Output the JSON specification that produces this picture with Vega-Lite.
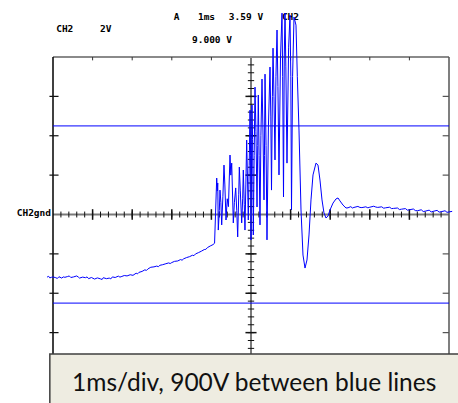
{
  "$schema": "https://vega.github.io/schema/vega-lite/v6.json",
  "width": 396,
  "height": 315,
  "autosize": {"type": "none"},
  "padding": {"left": 53, "top": 57, "right": 9, "bottom": 31},
  "background": "white",
  "config": {"view": {"stroke": null}, "axis": {"disable": true}},
  "datasets": {
    "one": [{}],
    "trace": [
      {"t": -5.15, "v": -318}, {"t": -5.11, "v": -314}, {"t": -5.08, "v": -322}, {"t": -5.04, "v": -319}, {"t": -5.0, "v": -317}, {"t": -4.93, "v": -321},
      {"t": -4.89, "v": -325}, {"t": -4.85, "v": -316}, {"t": -4.78, "v": -323}, {"t": -4.74, "v": -317}, {"t": -4.7, "v": -319}, {"t": -4.63, "v": -315},
      {"t": -4.59, "v": -312}, {"t": -4.55, "v": -320}, {"t": -4.48, "v": -317}, {"t": -4.4, "v": -312}, {"t": -4.36, "v": -318}, {"t": -4.33, "v": -323},
      {"t": -4.25, "v": -318}, {"t": -4.18, "v": -321}, {"t": -4.14, "v": -317}, {"t": -4.1, "v": -326}, {"t": -4.03, "v": -320},
      {"t": -3.99, "v": -324}, {"t": -3.95, "v": -328}, {"t": -3.88, "v": -322}, {"t": -3.8, "v": -327}, {"t": -3.76, "v": -330}, {"t": -3.73, "v": -321},
      {"t": -3.65, "v": -326}, {"t": -3.58, "v": -323}, {"t": -3.54, "v": -327}, {"t": -3.5, "v": -317}, {"t": -3.43, "v": -320},
      {"t": -3.35, "v": -313}, {"t": -3.31, "v": -318}, {"t": -3.28, "v": -316}, {"t": -3.2, "v": -310}, {"t": -3.13, "v": -312},
      {"t": -3.05, "v": -306}, {"t": -2.98, "v": -309}, {"t": -2.9, "v": -298}, {"t": -2.87, "v": -302}, {"t": -2.83, "v": -294},
      {"t": -2.75, "v": -289}, {"t": -2.68, "v": -281}, {"t": -2.64, "v": -284}, {"t": -2.6, "v": -276}, {"t": -2.53, "v": -268},
      {"t": -2.45, "v": -266}, {"t": -2.38, "v": -262}, {"t": -2.34, "v": -265}, {"t": -2.3, "v": -258}, {"t": -2.23, "v": -255},
      {"t": -2.15, "v": -250}, {"t": -2.08, "v": -246}, {"t": -2.04, "v": -249}, {"t": -2.0, "v": -244}, {"t": -1.93, "v": -238},
      {"t": -1.85, "v": -236}, {"t": -1.78, "v": -229}, {"t": -1.74, "v": -232}, {"t": -1.7, "v": -225}, {"t": -1.63, "v": -219},
      {"t": -1.55, "v": -214}, {"t": -1.48, "v": -207}, {"t": -1.44, "v": -209}, {"t": -1.4, "v": -200}, {"t": -1.33, "v": -194},
      {"t": -1.25, "v": -186}, {"t": -1.18, "v": -178}, {"t": -1.14, "v": -177}, {"t": -1.1, "v": -168}, {"t": -1.03, "v": -160},
      {"t": -0.96, "v": -153}, {"t": -0.92, "v": -146},
      {"t": -0.866, "v": 185}, {"t": -0.85, "v": 120}, {"t": -0.84, "v": 160}, {"t": -0.826, "v": -79}, {"t": -0.8, "v": 20},
      {"t": -0.783, "v": 124}, {"t": -0.76, "v": 60}, {"t": -0.74, "v": -53}, {"t": -0.71, "v": 90}, {"t": -0.682, "v": 251},
      {"t": -0.66, "v": 150}, {"t": -0.631, "v": -28}, {"t": -0.6, "v": 80}, {"t": -0.57, "v": 40}, {"t": -0.53, "v": 302},
      {"t": -0.51, "v": 200}, {"t": -0.487, "v": 261}, {"t": -0.447, "v": -43}, {"t": -0.42, "v": 60}, {"t": -0.386, "v": 135},
      {"t": -0.36, "v": 20}, {"t": -0.336, "v": -114}, {"t": -0.31, "v": 100}, {"t": -0.295, "v": 241}, {"t": -0.27, "v": 120},
      {"t": -0.235, "v": -43}, {"t": -0.21, "v": 80}, {"t": -0.194, "v": 226}, {"t": -0.17, "v": 50}, {"t": -0.152, "v": -79},
      {"t": -0.13, "v": 150}, {"t": -0.109, "v": 378}, {"t": -0.09, "v": 200}, {"t": -0.068, "v": -28}, {"t": -0.045, "v": 250},
      {"t": -0.025, "v": 530}, {"t": -0.01, "v": 300}, {"t": 0.0, "v": -129}, {"t": 0.012, "v": 200}, {"t": 0.025, "v": 556},
      {"t": 0.04, "v": 380}, {"t": 0.058, "v": -104}, {"t": 0.08, "v": 300}, {"t": 0.101, "v": 647}, {"t": 0.125, "v": 420},
      {"t": 0.152, "v": 38}, {"t": 0.17, "v": 350}, {"t": 0.184, "v": 607}, {"t": 0.205, "v": 300}, {"t": 0.227, "v": -53},
      {"t": 0.25, "v": 400}, {"t": 0.278, "v": 688}, {"t": 0.3, "v": 450}, {"t": 0.328, "v": 74}, {"t": 0.34, "v": 300},
      {"t": 0.354, "v": 713}, {"t": 0.38, "v": 350}, {"t": 0.404, "v": -129}, {"t": 0.44, "v": 450}, {"t": 0.48, "v": 749},
      {"t": 0.5, "v": 500}, {"t": 0.518, "v": 124}, {"t": 0.54, "v": 600}, {"t": 0.556, "v": 845}, {"t": 0.58, "v": 600},
      {"t": 0.606, "v": 277}, {"t": 0.63, "v": 700}, {"t": 0.657, "v": 937}, {"t": 0.68, "v": 650}, {"t": 0.707, "v": 201},
      {"t": 0.745, "v": 800}, {"t": 0.783, "v": 1023}, {"t": 0.8, "v": 700}, {"t": 0.821, "v": 89}, {"t": 0.84, "v": 800},
      {"t": 0.859, "v": 1023}, {"t": 0.88, "v": 750}, {"t": 0.909, "v": 261}, {"t": 0.95, "v": 850}, {"t": 0.985, "v": 1013},
      {"t": 1.005, "v": 700}, {"t": 1.023, "v": 23}, {"t": 1.05, "v": 700}, {"t": 1.086, "v": 1003}, {"t": 1.136, "v": 962},
      {"t": 1.17, "v": 700}, {"t": 1.212, "v": 429},
      {"t": 1.263, "v": 23}, {"t": 1.313, "v": -206}, {"t": 1.364, "v": -272}, {"t": 1.414, "v": -231},
      {"t": 1.465, "v": -104}, {"t": 1.515, "v": 74}, {"t": 1.566, "v": 201}, {"t": 1.641, "v": 261},
      {"t": 1.692, "v": 251}, {"t": 1.742, "v": 175}, {"t": 1.793, "v": 74}, {"t": 1.843, "v": 8},
      {"t": 1.894, "v": -18}, {"t": 1.944, "v": -8}, {"t": 1.995, "v": 23}, {"t": 2.071, "v": 58},
      {"t": 2.146, "v": 79}, {"t": 2.197, "v": 84}, {"t": 2.247, "v": 69}, {"t": 2.323, "v": 48},
      {"t": 2.399, "v": 33}, {"t": 2.45, "v": 34}, {"t": 2.52, "v": 40}, {"t": 2.56, "v": 33}, {"t": 2.6, "v": 36},
      {"t": 2.7, "v": 41}, {"t": 2.75, "v": 36}, {"t": 2.8, "v": 35}, {"t": 2.9, "v": 39}, {"t": 2.95, "v": 34}, {"t": 3.0, "v": 37},
      {"t": 3.1, "v": 42}, {"t": 3.15, "v": 38}, {"t": 3.2, "v": 36}, {"t": 3.3, "v": 39}, {"t": 3.35, "v": 32}, {"t": 3.4, "v": 34},
      {"t": 3.5, "v": 37}, {"t": 3.55, "v": 30}, {"t": 3.6, "v": 31}, {"t": 3.7, "v": 33}, {"t": 3.75, "v": 25}, {"t": 3.8, "v": 27},
      {"t": 3.9, "v": 30}, {"t": 3.95, "v": 22}, {"t": 4.0, "v": 24}, {"t": 4.1, "v": 28}, {"t": 4.15, "v": 20}, {"t": 4.2, "v": 19},
      {"t": 4.3, "v": 24}, {"t": 4.35, "v": 15}, {"t": 4.4, "v": 17}, {"t": 4.5, "v": 22}, {"t": 4.55, "v": 13}, {"t": 4.6, "v": 16},
      {"t": 4.7, "v": 21}, {"t": 4.75, "v": 12}, {"t": 4.8, "v": 14}, {"t": 4.9, "v": 19}, {"t": 4.95, "v": 11}, {"t": 5.0, "v": 13}, {"t": 5.08, "v": 16}
    ],
    "tminor": [
      {"t": -4.8}, {"t": -4.6}, {"t": -4.4}, {"t": -4.2}, {"t": -4.0}, {"t": -3.8}, {"t": -3.6}, {"t": -3.4},
      {"t": -3.2}, {"t": -3.0}, {"t": -2.8}, {"t": -2.6}, {"t": -2.4}, {"t": -2.2}, {"t": -2.0}, {"t": -1.8},
      {"t": -1.6}, {"t": -1.4}, {"t": -1.2}, {"t": -1.0}, {"t": -0.8}, {"t": -0.6}, {"t": -0.4}, {"t": -0.2},
      {"t": 0.2}, {"t": 0.4}, {"t": 0.6}, {"t": 0.8}, {"t": 1.0}, {"t": 1.2}, {"t": 1.4}, {"t": 1.6},
      {"t": 1.8}, {"t": 2.0}, {"t": 2.2}, {"t": 2.4}, {"t": 2.6}, {"t": 2.8}, {"t": 3.0}, {"t": 3.2},
      {"t": 3.4}, {"t": 3.6}, {"t": 3.8}, {"t": 4.0}, {"t": 4.2}, {"t": 4.4}, {"t": 4.6}, {"t": 4.8}
    ],
    "tdiv": [
      {"t": -4}, {"t": -3}, {"t": -2}, {"t": -1}, {"t": 1}, {"t": 2}, {"t": 3}, {"t": 4}
    ],
    "vminor": [
      {"v": -760}, {"v": -720}, {"v": -680}, {"v": -640}, {"v": -600}, {"v": -560}, {"v": -520}, {"v": -480},
      {"v": -440}, {"v": -400}, {"v": -360}, {"v": -320}, {"v": -280}, {"v": -240}, {"v": -200}, {"v": -160},
      {"v": -120}, {"v": -80}, {"v": -40}, {"v": 40}, {"v": 80}, {"v": 120}, {"v": 160}, {"v": 200},
      {"v": 240}, {"v": 280}, {"v": 320}, {"v": 360}, {"v": 400}, {"v": 440}, {"v": 480}, {"v": 520},
      {"v": 560}, {"v": 600}, {"v": 640}, {"v": 680}, {"v": 720}, {"v": 760}
    ],
    "vdiv": [
      {"v": -600}, {"v": -400}, {"v": -200}, {"v": 200}, {"v": 400}, {"v": 600}
    ],
    "blue": [{"v": 450}, {"v": -450}],
    "labels": [
      {"t": -4.92, "v": 942, "text": "CH2"},
      {"t": -3.81, "v": 942, "text": "2V"},
      {"t": -1.95, "v": 1005, "text": "A"},
      {"t": -1.34, "v": 1005, "text": "1ms"},
      {"t": -0.56, "v": 1005, "text": "3.59 V"},
      {"t": 0.78, "v": 1005, "text": "CH2"},
      {"t": -1.49, "v": 886, "text": "9.000 V"}
    ]
  },
  "layer": [
    {
      "data": {"name": "one"},
      "mark": {"type": "rule", "color": "#7a7a7a", "strokeWidth": 2},
      "encoding": {
        "x": {"datum": -5, "type": "quantitative", "scale": {"domain": [-5, 5], "nice": false, "zero": false}},
        "x2": {"datum": 5},
        "y": {"datum": 0, "type": "quantitative", "scale": {"domain": [-800, 800], "nice": false, "zero": false}}
      }
    },
    {
      "data": {"name": "one"},
      "mark": {"type": "rule", "color": "#7a7a7a", "strokeWidth": 2},
      "encoding": {
        "x": {"datum": 0, "type": "quantitative"},
        "y": {"datum": -800, "type": "quantitative"},
        "y2": {"datum": 800}
      }
    },
    {
      "data": {"name": "one"},
      "mark": {"type": "rule", "color": "#8a8a8a", "strokeWidth": 2},
      "encoding": {
        "x": {"datum": -5, "type": "quantitative"},
        "x2": {"datum": 5},
        "y": {"datum": 800, "type": "quantitative"}
      }
    },
    {
      "data": {"name": "one"},
      "mark": {"type": "rule", "color": "#000000", "strokeWidth": 1.5},
      "encoding": {
        "x": {"datum": -5, "type": "quantitative"},
        "y": {"datum": -800, "type": "quantitative"},
        "y2": {"datum": 800}
      }
    },
    {
      "data": {"name": "one"},
      "mark": {"type": "rule", "color": "#555555", "strokeWidth": 1.5},
      "encoding": {
        "x": {"datum": 5, "type": "quantitative"},
        "y": {"datum": -800, "type": "quantitative"},
        "y2": {"datum": 800}
      }
    },
    {
      "data": {"name": "tminor"},
      "mark": {"type": "rule", "color": "#111111", "strokeWidth": 1},
      "encoding": {
        "x": {"field": "t", "type": "quantitative"},
        "y": {"datum": -15, "type": "quantitative"},
        "y2": {"datum": 15}
      }
    },
    {
      "data": {"name": "tdiv"},
      "mark": {"type": "rule", "color": "#111111", "strokeWidth": 1.5},
      "encoding": {
        "x": {"field": "t", "type": "quantitative"},
        "y": {"datum": -27, "type": "quantitative"},
        "y2": {"datum": 27}
      }
    },
    {
      "data": {"name": "vminor"},
      "mark": {"type": "rule", "color": "#111111", "strokeWidth": 1},
      "encoding": {
        "y": {"field": "v", "type": "quantitative"},
        "x": {"datum": -0.08, "type": "quantitative"},
        "x2": {"datum": 0.08}
      }
    },
    {
      "data": {"name": "vdiv"},
      "mark": {"type": "rule", "color": "#111111", "strokeWidth": 1.5},
      "encoding": {
        "y": {"field": "v", "type": "quantitative"},
        "x": {"datum": -0.14, "type": "quantitative"},
        "x2": {"datum": 0.14}
      }
    },
    {
      "data": {"name": "vdiv"},
      "mark": {"type": "rule", "color": "#111111", "strokeWidth": 1.2, "clip": false},
      "encoding": {
        "y": {"field": "v", "type": "quantitative"},
        "x": {"datum": -5.09, "type": "quantitative"},
        "x2": {"datum": -4.86}
      }
    },
    {
      "data": {"name": "vdiv"},
      "mark": {"type": "rule", "color": "#555555", "strokeWidth": 1.2},
      "encoding": {
        "y": {"field": "v", "type": "quantitative"},
        "x": {"datum": 4.84, "type": "quantitative"},
        "x2": {"datum": 5}
      }
    },
    {
      "data": {"name": "tdiv"},
      "mark": {"type": "rule", "color": "#333333", "strokeWidth": 1},
      "encoding": {
        "x": {"field": "t", "type": "quantitative"},
        "y": {"datum": 800, "type": "quantitative"},
        "y2": {"datum": 783}
      }
    },
    {
      "data": {"name": "blue"},
      "mark": {"type": "rule", "color": "#0000ff", "strokeWidth": 1},
      "encoding": {
        "y": {"field": "v", "type": "quantitative"},
        "x": {"datum": -5, "type": "quantitative"},
        "x2": {"datum": 5}
      }
    },
    {
      "data": {"name": "labels"},
      "mark": {"type": "text", "font": "DejaVu Sans Mono", "fontWeight": "bold", "fontSize": 9.5, "align": "left", "baseline": "middle", "color": "#000000", "clip": false},
      "encoding": {
        "x": {"field": "t", "type": "quantitative"},
        "y": {"field": "v", "type": "quantitative"},
        "text": {"field": "text"}
      }
    },
    {
      "data": {"name": "one"},
      "mark": {"type": "text", "font": "DejaVu Sans Mono", "fontWeight": "bold", "fontSize": 9.5, "align": "right", "baseline": "middle", "color": "#000000", "clip": false},
      "encoding": {
        "x": {"datum": -5.05, "type": "quantitative"},
        "y": {"datum": 8, "type": "quantitative"},
        "text": {"value": "CH2gnd"}
      }
    },
    {
      "data": {"name": "trace"},
      "mark": {"type": "line", "color": "#0000ff", "strokeWidth": 1, "clip": false, "interpolate": "linear"},
      "encoding": {
        "x": {"field": "t", "type": "quantitative"},
        "y": {"field": "v", "type": "quantitative"}
      }
    },
    {
      "data": {"name": "one"},
      "mark": {"type": "rect", "fill": "#eeece1", "stroke": "#3f3f3f", "strokeWidth": 1.5, "clip": false},
      "encoding": {
        "x": {"datum": -5.08, "type": "quantitative"},
        "x2": {"datum": 5.6},
        "y": {"datum": -708, "type": "quantitative"},
        "y2": {"datum": -1000}
      }
    },
    {
      "data": {"name": "one"},
      "mark": {"type": "text", "font": "Lato", "fontSize": 24.5, "align": "center", "baseline": "alphabetic", "color": "#111111", "clip": false},
      "encoding": {
        "x": {"datum": 0.08, "type": "quantitative"},
        "y": {"datum": -899, "type": "quantitative"},
        "text": {"value": "1ms/div, 900V between blue lines"}
      }
    }
  ]
}
